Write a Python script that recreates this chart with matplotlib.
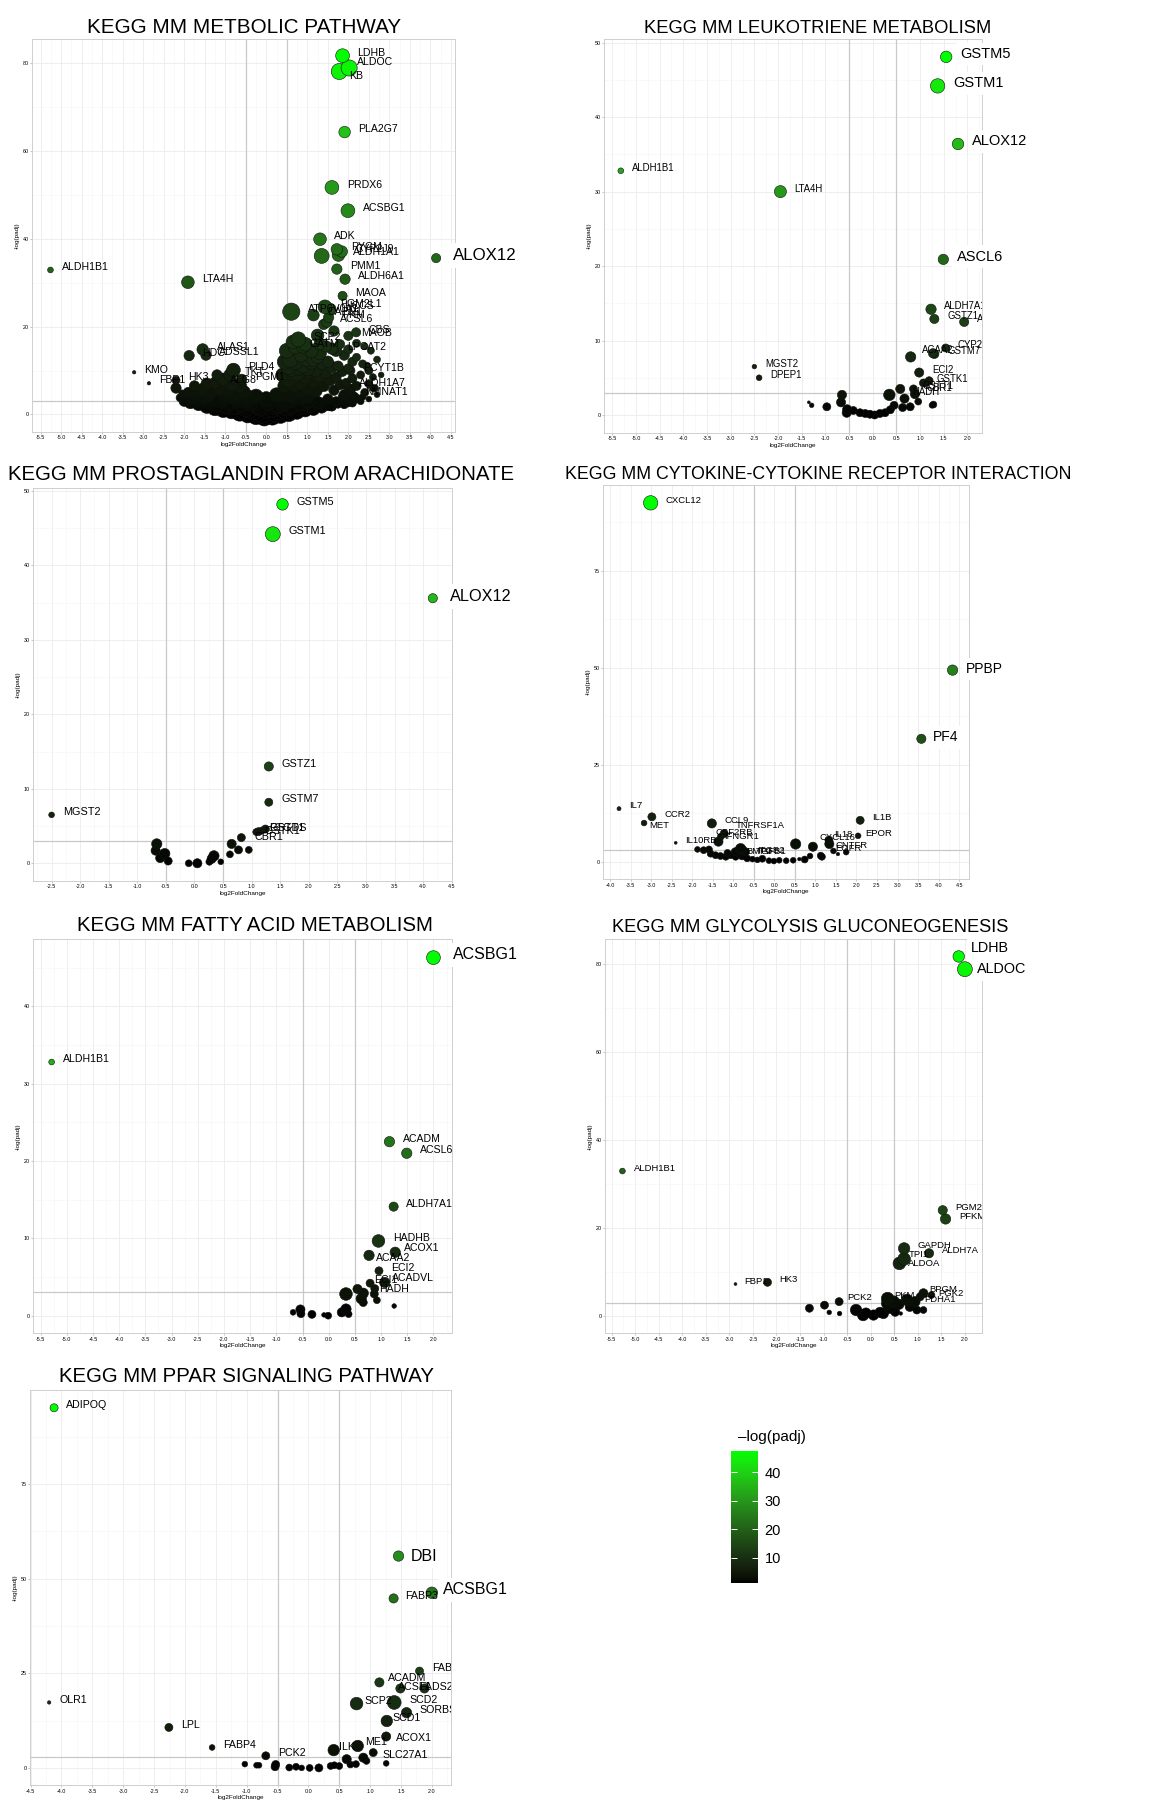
import numpy as np
import matplotlib
matplotlib.use("Agg")
import matplotlib.pyplot as plt
from matplotlib.colors import ListedColormap, Normalize
from matplotlib.ticker import MultipleLocator, FormatStrFormatter
from matplotlib import cm, transforms

plt.rcParams['font.family'] = ['Liberation Sans', 'DejaVu Sans']

W, H = 1160, 1809

# ---------------- data ----------------
# panel 1: KEGG MM METBOLIC PATHWAY (labelled genes)
p1_gene = ["LDHB", "KB", "ALDOC", "PLA2G7", "PRDX6", "ACSBG1", "ADK", "PYGM", "CYP2J9",
           "ALDH1A1", "", "ALOX12", "PMM1", "ALDH6A1", "ALDH1B1", "LTA4H", "MAOA",
           "ATP6V0A1", "PGM2L1", "HCCS", "CAPN1", "PKM", "ACSL6", "CBS", "MAOB",
           "SCP2", "GATM", "LPCAT2", "ALAS1", "HDC", "ADSSL1", "KMO", "FBP1", "HK3",
           "PLD4", "TKT", "PGM1", "ALG8", "PCYT1B", "ALDH1A7", "NMNAT1"]
p1_lfc = [1.86, 1.78, 2.02, 1.91, 1.60, 1.99, 1.31, 1.72, 1.84,
          1.76, 1.35, 4.14, 1.72, 1.92, -5.26, -1.91, 1.86,
          0.61, 1.43, 1.56, 1.15, 1.52, 1.48, 2.19, 2.00,
          0.78, 0.70, 1.64, -1.55, -1.88, -1.47, -3.22, -2.86, -2.20,
          -0.80, -0.88, -0.60, -1.20, 2.05, 1.95, 2.10]
p1_padj = [81.7, 78.1, 78.9, 64.3, 51.7, 46.4, 39.9, 37.6, 37.1,
           36.3, 36.1, 35.6, 33.1, 30.8, 32.9, 30.1, 27.0,
           23.4, 24.5, 24.0, 22.6, 22.1, 21.0, 18.7, 17.9,
           17.1, 15.4, 14.8, 14.8, 13.4, 13.5, 9.6, 7.1, 7.8,
           10.1, 9.0, 8.0, 7.1, 10.0, 6.5, 4.5]
p1_size = [12, 14, 14, 10, 12, 12, 11, 10, 10,
           11, 13, 8, 9, 9, 5, 11, 8,
           15, 12, 10, 10, 9, 9, 8, 8,
           13, 12, 9, 10, 9, 9, 3, 3, 7,
           12, 11, 9, 9, 8, 7, 7]
# panel 1 unlabelled cloud
p1c_lfc = [0.58, 0.62, 0.70, 0.75, 0.55, 0.68, 0.80, 0.85, 0.90, 0.95, 1.00, 1.05, 1.10, 1.15,
           1.20, 1.25, 1.30, 1.35, 1.40, 1.45, 1.50, 1.55, 1.60, 1.65, 1.70, 1.75, 1.80, 1.85,
           1.90, 1.95, 2.00, 2.05, 2.10, 2.15, 2.20, 2.30, 2.40, 2.50, 2.25, 1.85, 1.60, 1.45,
           1.30, 1.70, 1.90, 2.10, 0.90, 1.10, 1.20, 1.00, 0.80, 0.60, 0.65, 0.45, 0.40, 0.50,
           0.35, 1.75, 2.00, 2.30, 1.50, 1.20, 0.95, 1.45, 1.65, 1.40, 2.60, 2.70, 2.45,
           0.00, 0.10, -0.10, 0.20, -0.20, 0.30, -0.30, 0.40, -0.40, 0.50, -0.50, 0.60, 0.70,
           0.80, 0.90, 1.00, 1.10, 1.30, 0.15, -0.15, 0.30, -0.30, 0.05, 0.45, -0.45, 0.25,
           -0.25, 0.60, -0.60, 1.60, 1.90, 2.10,
           -0.60, -0.70, -0.80, -0.90, -1.00, -1.10, -1.20, -1.30, -1.40, -1.50, -1.60, -1.70,
           -1.80, -1.90, -2.00, -2.10, -2.20, -0.75, -0.95, -1.15, -1.35, -1.55, -1.25, -0.55,
           -0.85, -1.05, -0.65, -1.45, -1.75, -0.45, -1.90, -1.65, -2.05, -1.20, -1.00, -1.40,
           -0.05, 0.15, -0.25, 0.35, -0.45, 0.55, -0.65, 0.75, -0.85, 0.95, -1.05, 1.15,
           -1.25, 1.35, -1.45, 1.55, -1.65, 1.75, -1.85, 1.95, -2.00, 2.15,
           0.00, 0.20, -0.20, 0.40, -0.40, 0.00, 0.60, -0.60, 0.80, -0.80, 1.00, -1.00,
           0.25, -0.25,
           2.20, 2.35, 2.50, 2.60, 2.70, 2.55, 2.40, 2.20, 2.00, 1.80, 2.65, 2.80, 2.35,
           2.50, 2.00, 2.10, 1.70,
           0.50, 0.55, 0.45, 0.70, 0.85, 1.00, 1.15, 1.30, 0.95, 1.25]
p1c_padj = [12.5, 10.5, 12.0, 9.5, 8.0, 7.0, 10.5, 13.5, 11.0, 8.5, 12.5, 9.8, 11.8, 7.5,
            10.0, 13.0, 8.8, 11.5, 6.5, 9.5, 12.0, 7.8, 10.8, 5.5, 8.5, 11.0, 6.8, 9.8,
            4.5, 7.2, 10.5, 5.8, 8.2, 4.0, 6.5, 9.0, 5.0, 7.0, 3.5, 4.0, 15.0, 15.5,
            16.0, 14.5, 13.5, 12.0, 15.5, 14.5, 5.5, 6.0, 5.0, 4.5, 16.5, 6.5, 9.0, 3.5,
            4.5, 2.2, 2.5, 3.0, 3.5, 3.0, 2.5, 2.0, 19.0, 20.5, 6.0, 4.5, 11.0,
            -0.5, -0.2, 0.0, 0.2, 0.3, 0.6, 0.6, 1.0, 1.0, 1.5, 1.3, 2.0, 1.2,
            2.5, 1.6, 3.0, 2.0, 2.6, 1.2, 1.5, 2.2, 2.5, 2.8, 3.0, 3.2, -0.4,
            -0.2, 0.4, 0.5, 1.8, 2.2, 2.6,
            2.0, 3.0, 1.5, 2.5, 1.8, 3.0, 2.2, 3.5, 2.8, 4.0, 3.2, 4.5,
            3.8, 5.0, 4.2, 3.8, 6.0, 4.5, 5.5, 6.0, 5.0, 5.8, 7.2, 5.0,
            6.8, 8.0, 6.5, 7.0, 6.5, 4.0, 2.5, 1.8, 4.8, 9.0, 3.8, 4.5,
            -0.8, -0.6, -0.5, -0.2, -0.1, 0.2, 0.3, 0.6, 0.7, 1.0, 1.0, 1.2,
            1.4, 1.6, 1.8, 2.0, 2.3, 2.6, 2.6, 3.0, 3.0, 3.4,
            1.0, 1.8, 1.9, 2.6, 2.7, 3.5, 3.3, 3.6, 3.8, 4.0, 4.2, 4.6,
            4.5, 4.2,
            13.0, 11.5, 10.0, 8.5, 12.5, 14.5, 15.5, 16.2, 14.8, 16.0, 6.0, 9.0, 4.0,
            3.5, 3.6, 6.0, 3.0,
            14.5, 11.0, 12.0, 9.0, 7.5, 10.5, 12.5, 14.0, 16.0, 18.0]
p1c_size = [14, 14, 14, 14, 14, 14, 12, 12, 12, 12, 12, 12, 12, 12,
            11, 11, 11, 10, 10, 10, 10, 10, 10, 9, 9, 9, 9, 9,
            9, 8, 8, 8, 8, 8, 8, 7, 7, 7, 7, 7, 10, 10,
            10, 10, 9, 8, 12, 12, 12, 12, 12, 14, 12, 12, 12, 14,
            12, 6, 6, 6, 9, 11, 12, 9, 9, 9, 6, 5, 7,
            14, 14, 14, 14, 14, 14, 14, 14, 14, 14, 14, 14, 12,
            12, 12, 12, 12, 10, 14, 14, 14, 14, 14, 14, 12, 12,
            12, 12, 12, 8, 7, 7,
            12, 12, 12, 12, 12, 12, 12, 12, 12, 12, 10, 10,
            10, 9, 7, 7, 9, 12, 12, 12, 12, 10, 10, 12,
            12, 11, 12, 10, 9, 12, 6, 6, 6, 9, 12, 12,
            14, 14, 14, 14, 14, 14, 14, 13, 13, 12, 13, 11,
            13, 10, 12, 9, 11, 8, 10, 8, 9, 7,
            14, 14, 14, 14, 14, 13, 13, 13, 12, 12, 12, 12,
            12, 12,
            7, 7, 7, 6, 6, 6, 6, 7, 8, 8, 6, 5, 6,
            5, 7, 7, 8,
            13, 14, 13, 14, 14, 13, 12, 12, 12, 11]

# panel 2: KEGG MM LEUKOTRIENE METABOLISM
p2_gene = ["GSTM5", "GSTM1", "ALOX12", "ALDH1B1", "LTA4H", "ASCL6", "ALDH7A1", "GSTZ1", "ALOX5",
           "CYP2C", "ACAA2", "GSTM7", "", "ECI2", "GSTK1", "GSTT1", "HADH", "CBR1", "MGST2", "DPEP1",
           "", "", "", "", "", "", "", "", "", "", "", "", "", "", "", "", "", "", "", "",
           "", "", "", "", ""]
p2_lfc = [1.55, 1.37, 1.80, -5.32, -1.95, 1.49, 1.23, 1.30, 1.93,
          1.54, 1.27, 1.30, 0.80, 0.98, 1.19, 1.07, 0.86, 1.11, -2.50, -2.40,
          -1.35, -1.29, -0.97, -0.65, -0.67, -0.54, -0.55, -0.41, -0.27, -0.16, -0.06, 0.04,
          0.15, 0.26, 0.37, 0.35, 0.45, 0.58, 0.67, 0.63, 0.79, 0.89, 0.96, 1.25, 1.28]
p2_padj = [48.1, 44.2, 36.4, 32.8, 30.0, 20.9, 14.2, 12.9, 12.5,
           9.0, 8.3, 8.2, 7.8, 5.7, 4.6, 4.3, 3.5, 4.25, 6.5, 5.0,
           1.7, 1.3, 1.1, 2.7, 1.7, 0.76, 0.3, 0.6, 0.3, 0.2, 0.1, 0.0,
           0.2, 0.3, 0.7, 2.7, 1.3, 3.5, 2.2, 1.0, 1.1, 2.8, 1.8, 1.3, 1.4]
p2_size = [10, 12.5, 10, 5, 10.5, 9, 9, 8, 8,
           7, 8, 8, 9, 8, 7, 7, 7, 6, 4, 5,
           2.5, 4, 7, 8, 8, 8, 8, 7, 7, 7, 7, 7,
           7, 7, 7, 10, 7, 8, 8, 7, 7, 8, 6, 5, 6]

# panel 3: KEGG MM PROSTAGLANDIN FROM ARACHIDONATE
p3_gene = ["GSTM5", "GSTM1", "ALOX12", "GSTZ1", "GSTM7", "MGST2", "GSTT1", "CBR1", "PTGDS", "GSTK1",
           "", "", "", "", "", "", "", "", "", "", "", "", "", "", "", "", ""]
p3_lfc = [1.54, 1.37, 4.17, 1.30, 1.30, -2.50, 1.24, 1.12, 1.18, 1.08,
          0.82, 0.65, 0.77, 0.95, 0.62, 0.34, 0.30, 0.26, 0.46, 0.05, -0.10, -0.46, -0.52,
          -0.60, -0.66, -0.68, -0.55]
p3_padj = [48.2, 44.2, 35.6, 13.0, 8.2, 6.5, 4.6, 4.25, 4.4, 4.2,
           3.45, 2.6, 1.8, 1.8, 1.2, 1.0, 0.6, 0.2, 0.2, 0.0, 0.0, 0.3, 1.3,
           0.7, 2.6, 1.7, 1.0]
p3_size = [10, 13, 8, 8, 7, 5, 7, 7, 6, 6,
           7, 8, 7, 6, 6, 9, 8, 6, 5, 8, 6, 7, 9,
           8, 9, 8, 7]

# panel 4: KEGG MM CYTOKINE-CYTOKINE RECEPTOR INTERACTION
p4_gene = ["CXCL12", "PPBP", "PF4", "IL7", "CCR2", "MET", "CCL9", "TNFRSF1A", "CSF2RB", "IL10RB",
           "IFNGR1", "BMP2", "TGFB1", "ITGB2", "IL1B", "EPOR", "IL18", "CXCL16", "CNTFR", "EGFR",
           "", "", "", "", "", "", "", "", "", "", "", "", "", "", "", "", "", "", "", "", "",
           "", "", "", "", "", "", "", "", ""]
p4_lfc = [-3.01, 4.34, 3.58, -3.78, -2.98, -3.17, -1.52, -1.22, -1.30, -2.40,
          -1.36, -0.82, -0.78, -0.70, 2.09, 2.04, 1.33, 1.34, 1.75, 1.55,
          0.52, 0.94, 1.44, 1.13, 1.16, 0.87, 0.74, 0.61, 0.46, 0.29, 0.12, -0.01, -0.13,
          -0.29, -0.41, -0.53, -0.66, -0.78, -0.94, -1.06, -1.18, -1.31, -1.43, -1.55, -1.59,
          -1.72, -1.87, -0.95, -0.85, -1.14]
p4_padj = [92.5, 49.4, 31.7, 13.7, 11.6, 10.0, 9.9, 7.3, 6.5, 4.9,
           5.2, 3.4, 3.0, 2.6, 10.7, 6.7, 5.6, 4.6, 2.5, 2.0,
           4.6, 3.9, 2.8, 1.6, 1.3, 1.5, 0.6, 0.7, 0.4, 0.3, 0.4, 0.2, 0.3,
           0.8, 0.5, 0.7, 0.9, 1.7, 1.3, 1.7, 1.3, 1.5, 1.7, 2.1, 3.2,
           3.0, 3.2, 2.6, 2.1, 2.3]
p4_size = [12.5, 9, 8, 3.5, 7, 5, 8, 7, 6, 2.5,
           8, 9, 8, 7, 7, 5, 7, 8, 5, 3,
           9, 8, 5, 6, 6, 5, 6, 3, 5, 5, 5, 5, 5,
           6, 5, 5, 6, 8, 6, 6, 6, 6, 6, 6, 6,
           6, 5, 7, 7, 6]

# panel 5: KEGG MM FATTY ACID METABOLISM
p5_gene = ["ACSBG1", "ALDH1B1", "ACADM", "ACSL6", "ALDH7A1", "HADHB", "ACOX1", "ACAA2", "ECI2",
           "ACADVL", "ECI1", "HADH", "", "", "", "", "", "", "", "", "", "", "", "", "", "", "", "", ""]
p5_lfc = [2.00, -5.29, 1.16, 1.49, 1.24, 0.95, 1.27, 0.77, 0.96,
          1.07, 0.79, 0.88, 0.55, 0.66, 0.33, 0.62, 0.87, 0.92, 0.66, 1.25, 0.33, 0.25, 0.38,
          -0.01, -0.09, -0.32, -0.54, -0.53, -0.68]
p5_padj = [46.3, 32.8, 22.5, 21.0, 14.1, 9.66, 8.2, 7.8, 5.8,
           4.3, 4.2, 3.5, 3.45, 2.9, 2.8, 2.2, 2.8, 2.0, 1.7, 1.25, 0.86, 0.43, 0.2,
           0.0, 0.1, 0.17, 0.8, 0.26, 0.43]
p5_size = [12, 5, 9, 9, 8, 11, 9, 9, 7,
           9, 7, 7, 8, 9, 11, 9, 7, 6, 7, 4, 9, 8, 6,
           6, 4, 7, 8, 7, 5]

# panel 6: KEGG MM GLYCOLYSIS GLUCONEOGENESIS
p6_gene = ["LDHB", "ALDOC", "ALDH1B1", "PGM2", "PFKM", "GAPDH", "ALDH7A", "TPI1", "ALDOA", "FBP1",
           "HK3", "PCK2", "PKM", "BPGM", "PGK2", "PDHA1",
           "", "", "", "", "", "", "", "", "", "", "", "", "", "", "", "", "", "", "", "", ""]
p6_lfc = [1.87, 2.00, -5.27, 1.53, 1.59, 0.71, 1.24, 0.71, 0.61, -2.87,
          -2.19, -0.67, 0.36, 1.12, 1.29, 1.05,
          -1.30, -0.98, -0.88, -0.66, -0.31, -0.16, 0.06, 0.20, 0.27, 0.52, 0.64, 0.83,
          0.98, 1.12, 0.35, 0.49, 0.77, 0.94, -0.10, 0.40, 0.60]
p6_padj = [81.7, 78.8, 32.9, 24.0, 22.0, 15.3, 14.2, 12.9, 11.9, 7.2,
           7.6, 3.2, 3.9, 5.1, 4.7, 4.3,
           1.7, 2.4, 0.76, 0.5, 1.3, 0.15, 0.15, 0.76, 0.5, 0.9, 0.5, 2.0,
           1.3, 1.3, 2.8, 3.2, 3.6, 3.2, 0.6, 1.8, 2.6]
p6_size = [10, 13, 5, 8, 9, 10, 8, 11, 11, 2.5,
           7, 7, 11, 8, 6, 7,
           7, 7, 4, 4, 10, 10, 9, 9, 9, 8, 3, 8,
           7, 6, 10, 10, 10, 9, 9, 10, 9]

# panel 7: KEGG MM PPAR SIGNALING PATHWAY
p7_gene = ["ADIPOQ", "DBI", "ACSBG1", "FABP3", "FABP5", "ACADM", "ACSL1", "FADS2", "SCP2", "SCD2",
           "SORBS1", "SCD1", "ACOX1", "SLC27A1", "ME1", "ILK", "OLR1", "LPL", "FABP4", "PCK2",
           "", "", "", "", "", "", "", "", "", "", "", "", "", "", "", "", "", "", ""]
p7_lfc = [-4.12, 1.46, 2.00, 1.38, 1.80, 1.15, 1.49, 1.88, 0.78, 1.39,
          1.59, 1.27, 1.26, 1.05, 0.80, 0.41, -4.20, -2.26, -1.56, -0.69,
          -1.03, -0.84, -0.80, -0.53, -0.54, -0.31, -0.20, -0.11, 0.02, 0.17, 0.36, 0.42,
          0.50, 0.62, 0.68, 0.77, 0.89, 0.94, 1.26]
p7_padj = [95.2, 56.0, 46.3, 44.8, 25.6, 22.6, 21.0, 21.0, 17.0, 17.3,
           14.6, 12.4, 8.3, 4.05, 5.8, 4.7, 17.3, 10.7, 5.4, 3.2,
           1.0, 0.7, 0.7, 0.9, 0.3, 0.1, 0.3, 0.0, 0.0, 0.0, 0.5, 0.7,
           0.5, 2.3, 0.9, 1.0, 2.7, 1.85, 1.2]
p7_size = [7, 9, 10, 8, 7, 8, 8, 8, 11, 12,
           9, 10, 8, 7, 10, 10, 3, 7, 5, 7,
           5, 5, 5, 7, 7, 6, 6, 5, 6, 7, 6, 6,
           6, 8, 6, 6, 8, 6, 5]

cbar_ticks = [10, 20, 30, 40]
cbar_range = (1.0, 47.6)


# ---------------- colours: black -> green, interpolated in CIELAB like ggplot ----------------
def lab_ramp(n=256):
    t = np.linspace(0, 1, n)
    L, a, b = 87.737 * t, -86.185 * t, 83.181 * t
    fy = (L + 16) / 116
    fx = fy + a / 500
    fz = fy - b / 200

    def finv(v):
        return np.where(v > 6 / 29, v ** 3, 3 * (6 / 29) ** 2 * (v - 4 / 29))

    X, Y, Z = 0.95047 * finv(fx), finv(fy), 1.08883 * finv(fz)
    r = 3.2406 * X - 1.5372 * Y - 0.4986 * Z
    g = -0.9689 * X + 1.8758 * Y + 0.0415 * Z
    bl = 0.0557 * X - 0.2040 * Y + 1.0570 * Z
    rgb = np.clip(np.stack([r, g, bl], -1), 0, 1)
    rgb = np.where(rgb <= 0.0031308, 12.92 * rgb, 1.055 * rgb ** (1 / 2.4) - 0.055)
    return ListedColormap(np.clip(rgb, 0, 1))


cmap = lab_ramp()

fig = plt.figure(figsize=(W / 100, H / 100), dpi=100)


def px_box(l, t, r, b):
    return [l / W, 1 - b / H, (r - l) / W, (b - t) / H]


def fit_title(title, cx, base_y, width):
    t = fig.text(cx / W, 1 - base_y / H, title, ha='center', va='baseline', fontsize=15)
    fig.canvas.draw()
    w = t.get_window_extent().width
    t.set_fontsize(15 * width / w)


def volcano(box, title, tpos, genes, lfc, padj, size, xlim, ylim, ymaj, big, lab_fs, big_fs,
            offsets=None, cloud=None):
    offsets = offsets or {}
    ax = fig.add_axes(px_box(*box))
    ax.set_xlim(*xlim)
    ax.set_ylim(*ylim)
    ax.xaxis.set_major_locator(MultipleLocator(0.5))
    ax.xaxis.set_minor_locator(MultipleLocator(0.25))
    ax.yaxis.set_major_locator(MultipleLocator(ymaj))
    ax.yaxis.set_minor_locator(MultipleLocator(ymaj / 2))
    ax.xaxis.set_major_formatter(FormatStrFormatter('%.1f'))
    ax.grid(which='major', color='#ebebeb', lw=0.6, zorder=0)
    ax.grid(which='minor', color='#f5f5f5', lw=0.4, zorder=0)
    ax.set_axisbelow(True)
    for s in ax.spines.values():
        s.set_color('#cfcfcf')
        s.set_linewidth(0.7)
    ax.tick_params(which='major', labelsize=3.9, length=1.5, width=0.4, color='#999999', pad=1)
    ax.tick_params(which='minor', length=0)
    ax.set_xlabel('log2FoldChange', fontsize=4.6, labelpad=1)
    ax.set_ylabel('-log(padj)', fontsize=4.6, labelpad=2)
    for v in (-0.5, 0.5):
        ax.axvline(v, color='#c8c8c8', lw=0.9, zorder=1)
    ax.axhline(3, color='#c8c8c8', lw=0.9, zorder=1)

    ymax = max(padj)
    norm = Normalize(0, ymax)
    allx, ally, alls = list(lfc), list(padj), list(size)
    if cloud is not None:
        allx = list(cloud[0]) + allx
        ally = list(cloud[1]) + ally
        alls = list(cloud[2]) + alls
    order = np.argsort(ally, kind='stable')
    xs = np.array(allx)[order]
    ys = np.array(ally)[order]
    ss = np.array(alls)[order]
    ax.scatter(xs, ys, s=(ss * 0.72 * 1.15) ** 2, c=cmap(norm(np.clip(ys, 0, None))),
               edgecolors='#101010', linewidths=0.4, zorder=3)

    for g, x, y, d in zip(genes, lfc, padj, size):
        if not g:
            continue
        dx, dy = offsets.get(g, (d * 0.4 + 6, 2))
        tr = transforms.offset_copy(ax.transData, fig=fig, x=dx, y=dy, units='points')
        if g in big:
            ax.text(x, y, g, transform=tr, fontsize=big_fs, ha='left', va='center', zorder=6,
                    clip_on=False,
                    bbox=dict(boxstyle='square,pad=0.3', fc='white', ec='none'))
        else:
            t = ax.text(x, y, g, transform=tr, fontsize=lab_fs, ha='left', va='center', zorder=5)
            t.set_clip_box(ax.bbox)
            t.set_clip_on(True)
    fit_title(title, *tpos)
    return ax


volcano((32, 39, 455, 432), 'KEGG MM METBOLIC PATHWAY', (244.5, 33.3, 315),
        p1_gene, p1_lfc, p1_padj, p1_size, (-5.71, 4.6), (-4.0, 85.5), 20, {'ALOX12'}, 7.6, 12.2,
        offsets={'KB': (7, -3), 'ALDOC': (6, 4), 'ALOX12': (12, 2)},
        cloud=(p1c_lfc, p1c_padj, p1c_size))

volcano((604, 39, 981.7, 433), 'KEGG MM LEUKOTRIENE METABOLISM', (817.5, 33.3, 348.3),
        p2_gene, p2_lfc, p2_padj, p2_size, (-5.675, 2.30), (-2.42, 50.5), 10,
        {'GSTM5', 'GSTM1', 'ALOX12', 'ASCL6'}, 6.9, 10.5,
        offsets={'ACAA2': (-8, 2), 'GSTK1': (5, 1), 'GSTT1': (-1, -2), 'HADH': (-1, -2),
                 'CBR1': (1, -3)})

volcano((33.3, 487.7, 451.7, 881), 'KEGG MM PROSTAGLANDIN FROM ARACHIDONATE', (261, 480, 508),
        p3_gene, p3_lfc, p3_padj, p3_size, (-2.82, 4.5), (-2.38, 50.44), 10,
        {'ALOX12'}, 7.8, 11.7,
        offsets={'ALOX12': (12, 1), 'CBR1': (-3, -4), 'GSTT1': (3, 1), 'PTGDS': (5, 2),
                 'GSTK1': (6, 1)})

volcano((603, 485, 969, 879.3), 'KEGG MM CYTOKINE-CYTOKINE RECEPTOR INTERACTION', (818.7, 479.3, 507),
        p4_gene, p4_lfc, p4_padj, p4_size, (-4.17, 4.74), (-4.5, 97.1), 25,
        {'PPBP', 'PF4'}, 6.8, 10.0,
        offsets={'PPBP': (9.5, 1), 'PF4': (8, 1), 'MET': (4, -2), 'TNFRSF1A': (8, 6),
                 'CSF2RB': (-4, 3), 'IFNGR1': (4, 4), 'BMP2': (4, -2), 'TGFB1': (10, -1),
                 'ITGB2': (8, 1), 'CXCL16': (-7, 5), 'IL18': (4, 4), 'CNTFR': (-8, 5),
                 'EGFR': (-2, 4), 'EPOR': (5, 2)})

volcano((33.3, 939.3, 452.3, 1333.3), 'KEGG MM FATTY ACID METABOLISM', (254.7, 931, 357),
        p5_gene, p5_lfc, p5_padj, p5_size, (-5.64, 2.36), (-2.28, 48.67), 10,
        {'ACSBG1'}, 7.6, 11.5,
        offsets={'ACSBG1': (14, 2), 'ACAA2': (5, -2), 'ACOX1': (6, 3), 'ECI1': (3, 2),
                 'ACADVL': (5, 3), 'HADH': (3, 0)})

volcano((605, 939.3, 982.3, 1333.3), 'KEGG MM GLYCOLYSIS GLUCONEOGENESIS', (809.7, 931.7, 399),
        p6_gene, p6_lfc, p6_padj, p6_size, (-5.64, 2.37), (-4.0, 85.6), 20,
        {'LDHB', 'ALDOC'}, 6.8, 10.4,
        offsets={'LDHB': (9, 6), 'ALDOC': (9, 0), 'TPI1': (3, 3), 'ALDOA': (6, 0),
                 'FBP1': (6, 2), 'PCK2': (6, 3), 'PKM': (5, 2), 'BPGM': (4, 3), 'PGK2': (5, 1),
                 'PDHA1': (3, -2)})

volcano((30, 1390, 451, 1785.3), 'KEGG MM PPAR SIGNALING PATHWAY', (246.7, 1382, 376.7),
        p7_gene, p7_lfc, p7_padj, p7_size, (-4.51, 2.31), (-4.6, 99.9), 25,
        {'DBI', 'ACSBG1'}, 7.7, 11.5,
        offsets={'DBI': (9, 0), 'ACSBG1': (8, 2), 'FABP3': (8, 2), 'ACSL1': (-2, 1),
                 'FADS2': (-4, 1), 'SCP2': (6, 2), 'SCD1': (4, 2), 'ACOX1': (7, -1),
                 'SLC27A1': (7, -2), 'ME1': (5, 3), 'ILK': (4, 2), 'ACADM': (6, 3)})

# colour bar
cax = fig.add_axes(px_box(731, 1450.7, 757.7, 1583.3))
sm = cm.ScalarMappable(norm=Normalize(*cbar_range), cmap=cmap)
cb = fig.colorbar(sm, cax=cax, ticks=cbar_ticks)
cb.outline.set_visible(False)
cax.tick_params(axis='y', direction='in', color='white', length=4, width=0.7,
                left=True, right=True, labelsize=10.5, pad=5)
fig.text(771.7 / W, 1 - 1441 / H, '\u2013log(padj)', ha='center', va='baseline', fontsize=11)

fig.savefig('out.png', dpi=100)
